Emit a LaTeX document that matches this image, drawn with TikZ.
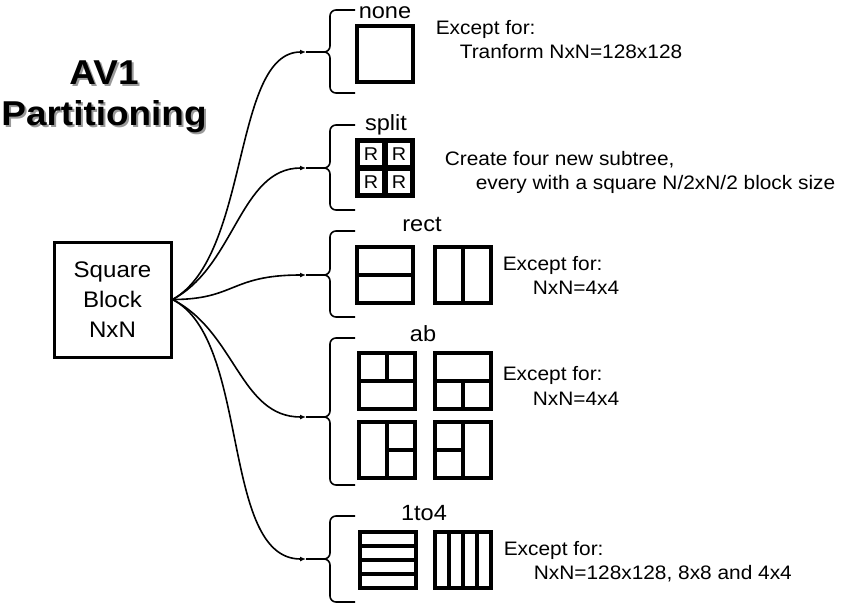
\documentclass[tikz,border=0pt]{standalone}
\usepackage{fontspec}
\setmainfont{Liberation Sans}[FakeStretch=1.07]
\usetikzlibrary{arrows.meta,positioning,calc}

\begin{document}
\begin{tikzpicture}[x=1pt,y=-1pt,line width=1.6pt,
    >={Latex[length=6pt,width=5pt]},
    txt/.style={anchor=base west,inner sep=0pt,font=\fontsize{19.5}{24}\selectfont},
    lbl/.style={anchor=base,inner sep=0pt,font=\fontsize{22}{26}\selectfont},
    ttl/.style={anchor=base,inner sep=0pt,font=\bfseries\fontsize{34.5}{40}\selectfont},
    part/.style={draw,line width=4pt,minimum size=56pt,inner sep=0pt,outer sep=0pt},
    cell/.style={draw,line width=0.6pt,minimum size=22.5pt,inner sep=0pt,font=\fontsize{18.5}{20}\selectfont},
    brc/.style={line width=1.6pt,rounded corners=6pt}]
    \useasboundingbox (0,0) rectangle (850,608);

    \node[ttl,text=black!40] (ttlAsh) at (106,86)  {AV1};
    \node[ttl,text=black!40] (ttlBsh) at (106,127) {Partitioning};
    \node[ttl] (ttlA) at (104,84)  {AV1};
    \node[ttl] (ttlB) at (104,125) {Partitioning};

    \node[draw,line width=3pt,minimum width=117pt,minimum height=115pt,align=center,
          font=\fontsize{22.5}{30}\selectfont] (blk) at (112.5,299.5) {Square\\Block\\NxN};

    \node[part] (none)  at (385,54)    {};
    \node[part] (split) at (385,168)   {};
    \node[part] (rectA) at (385,274.5) {};
    \node[part] (rectB) [right=21.5pt of rectA] {};
    \node[part] (abA)   at (387,381)   {};
    \node[part] (abB)   [right=20pt of abA] {};
    \node[part] (abC)   [below=13pt of abA] {};
    \node[part] (abD)   [below=13pt of abB] {};
    \node[part] (oneA)  at (387.5,559.5) {};
    \node[part] (oneB)  [right=19.5pt of oneA] {};

    \begin{scope}[line width=4pt]
      \draw (split.west) -- (split.east) (split.north) -- (split.south);
      \draw (rectA.west) -- (rectA.east);
      \draw (rectB.north) -- (rectB.south);
      \draw (abA.west) -- (abA.east) (abA.north) -- (abA.center);
      \draw (abB.west) -- (abB.east) (abB.center) -- (abB.south);
      \draw (abC.north) -- (abC.south) (abC.center) -- (abC.east);
      \draw (abD.north) -- (abD.south) (abD.center) -- (abD.west);
      \foreach \f in {0.25,0.5,0.75} {
        \draw ($(oneA.north west)!\f!(oneA.south west)$) -- ($(oneA.north east)!\f!(oneA.south east)$);
        \draw ($(oneB.north west)!\f!(oneB.north east)$) -- ($(oneB.south west)!\f!(oneB.south east)$);
      }
    \end{scope}
    \node[cell] (rNW) at ($(split.center)+(-14,-14)$) {R};
    \node[cell] (rNE) at ($(split.center)+(14,-14)$)  {R};
    \node[cell] (rSW) at ($(split.center)+(-14,14)$)  {R};
    \node[cell] (rSE) at ($(split.center)+(14,14)$)   {R};

    \node[lbl] (lNone)  at (385,18)  {none};
    \node[lbl] (lSplit) at (386,130) {split};
    \node[lbl] (lRect)  at (422,231) {rect};
    \node[lbl] (lAb)    at (423,341) {ab};
    \node[lbl] (lOne)   at (424,520) {1to4};

    \node[txt] (exNone)  at (435,34)  {Except for:};
    \node[txt] (trNone)  at (459,58)  {Tranform NxN=128x128};
    \node[txt] (crSplit) at (444,165) {Create four new subtree,};
    \node[txt] (evSplit) at (475,189) {every with a square N/2xN/2 block size};
    \node[txt] (exRect)  at (502,270) {Except for:};
    \node[txt] (nnRect)  at (532,294) {NxN=4x4};
    \node[txt] (exAb)    at (502,380) {Except for:};
    \node[txt] (nnAb)    at (532,405) {NxN=4x4};
    \node[txt] (exOne)   at (503,555) {Except for:};
    \node[txt] (nnOne)   at (533,579) {NxN=128x128, 8x8 and 4x4};

    \coordinate (tNone)  at (306,52);
    \coordinate (tSplit) at (306,168);
    \coordinate (tRect)  at (306,275);
    \coordinate (tAb)    at (306,417);
    \coordinate (tOne)   at (306,559);

    \draw[brc] (355,10)  -- (330,10)  -- (330,52)  -- (tNone);
    \draw[brc] (355,93)  -- (330,93)  -- (330,52)  -- (tNone);
    \draw[brc] (355,125) -- (330,125) -- (330,168) -- (tSplit);
    \draw[brc] (355,210) -- (330,210) -- (330,168) -- (tSplit);
    \draw[brc] (355,231) -- (330,231) -- (330,275) -- (tRect);
    \draw[brc] (355,317) -- (330,317) -- (330,275) -- (tRect);
    \draw[brc] (355,338) -- (330,338) -- (330,417) -- (tAb);
    \draw[brc] (355,485) -- (330,485) -- (330,417) -- (tAb);
    \draw[brc] (355,516) -- (330,516) -- (330,559) -- (tOne);
    \draw[brc] (355,602) -- (330,602) -- (330,559) -- (tOne);

    \path[->]
      (blk.east) edge [out=29,in=180,out distance=89pt,in distance=74pt] (tNone)
      (blk.east) edge [out=28,in=180,out distance=71pt,in distance=66pt] (tSplit)
      (blk.east) edge [out=0,in=180,out distance=63pt,in distance=76pt] (tRect)
      (blk.east) edge [out=-27,in=180,out distance=71pt,in distance=66pt] (tAb)
      (blk.east) edge [out=-27,in=180,out distance=88pt,in distance=86pt] (tOne);
\end{tikzpicture}
\end{document}
